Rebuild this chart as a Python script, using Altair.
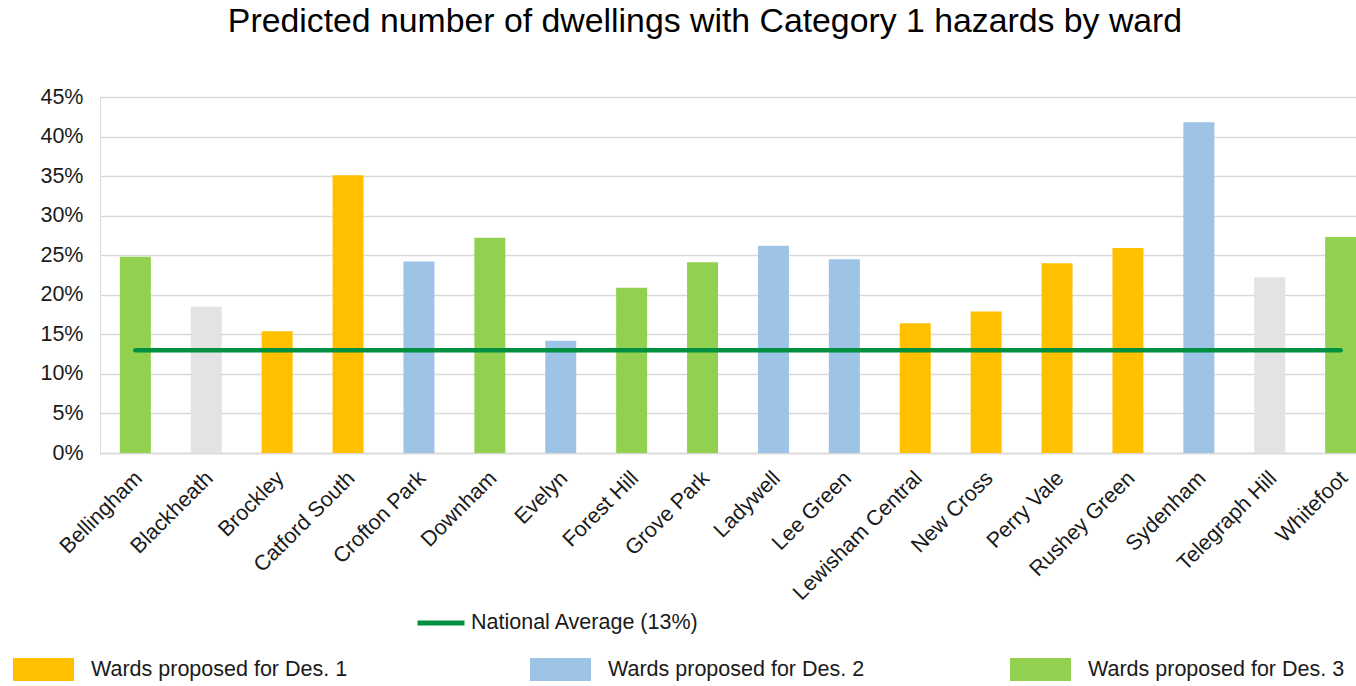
import altair as alt
import pandas as pd

wards = ["Bellingham", "Blackheath", "Brockley", "Catford South", "Crofton Park",
         "Downham", "Evelyn", "Forest Hill", "Grove Park", "Ladywell", "Lee Green",
         "Lewisham Central", "New Cross", "Perry Vale", "Rushey Green", "Sydenham",
         "Telegraph Hill", "Whitefoot"]
values = [24.8, 18.5, 15.4, 35.1, 24.2, 27.2, 14.2, 20.9, 24.1, 26.2, 24.5,
          16.4, 17.9, 24.0, 25.9, 41.8, 22.2, 27.3]
groups = ["Wards proposed for Des. 3", "Other", "Wards proposed for Des. 1",
          "Wards proposed for Des. 1", "Wards proposed for Des. 2", "Wards proposed for Des. 3",
          "Wards proposed for Des. 2", "Wards proposed for Des. 3", "Wards proposed for Des. 3",
          "Wards proposed for Des. 2", "Wards proposed for Des. 2", "Wards proposed for Des. 1",
          "Wards proposed for Des. 1", "Wards proposed for Des. 1", "Wards proposed for Des. 1",
          "Wards proposed for Des. 2", "Other", "Wards proposed for Des. 3"]
group_names = ["Wards proposed for Des. 1", "Wards proposed for Des. 2",
               "Wards proposed for Des. 3", "Other"]
group_colors = ["#FFC000", "#9DC3E6", "#92D050", "#E3E3E3"]
national_label = "National Average (13%)"
national_value = 13
y_ticks = [0, 5, 10, 15, 20, 25, 30, 35, 40, 45]

FONT = "Liberation Sans"
TXT = "#1a1a1a"
RECT = "M-1,-0.377L1,-0.377L1,0.377L-1,0.377Z"

df = pd.DataFrame({"ward": wards, "value": values, "group": groups})
df1 = df[df["group"] == group_names[0]]
df_rest = df[df["group"] != group_names[0]]
line_df = pd.DataFrame({"ward": [wards[0], wards[-1]],
                        "value": [national_value, national_value],
                        "series": [national_label, national_label]})

x_scale = alt.Scale(domain=wards, range=[0, 1276], paddingInner=0.563, paddingOuter=0.28)
x_axis = alt.Axis(title=None, labelAngle=-45, labelAlign="right", labelBaseline="top",
                  labelFontSize=21.5, labelFont=FONT, labelColor=TXT,
                  labelPadding=14, labelOffset=-4, ticks=False, grid=False,
                  domainColor="#D9D9D9", domainWidth=1.5, labelOverlap=False,
                  labelLimit=400)
y_scale = alt.Scale(domain=[0, 45], nice=False)
y_axis = alt.Axis(title=None, values=y_ticks, labelExpr="datum.value + '%'",
                  labelFontSize=21.5, labelFont=FONT, labelColor=TXT,
                  labelPadding=17, ticks=False, domain=False, gridColor="#D9D9D9",
                  gridWidth=1.5, labelOverlap=False)


def legend(x, y, values=None):
    kw = dict(title=None, orient="none", legendX=x, legendY=y, direction="horizontal",
              symbolType=RECT, symbolSize=3721, symbolStrokeWidth=0, symbolOpacity=1,
              labelFontSize=21.5, labelFont=FONT, labelColor=TXT,
              labelOffset=17, columnPadding=145, labelLimit=500)
    if values is not None:
        kw["values"] = values
    return alt.Legend(**kw)


bars1 = alt.Chart(df1).mark_bar().encode(
    x=alt.X("ward:N", sort=wards, scale=x_scale, axis=x_axis),
    y=alt.Y("value:Q", scale=y_scale, axis=y_axis),
    fill=alt.Fill("group:N",
                  scale=alt.Scale(domain=group_names[:1], range=group_colors[:1]),
                  legend=legend(-87, 542)),
)

bars_rest = alt.Chart(df_rest).mark_bar().encode(
    x=alt.X("ward:N", sort=wards, scale=x_scale, axis=x_axis),
    y=alt.Y("value:Q", scale=y_scale, axis=y_axis),
    color=alt.Color("group:N",
                    scale=alt.Scale(domain=group_names[1:], range=group_colors[1:]),
                    legend=legend(430, 542, group_names[1:3])),
)

line = alt.Chart(line_df).mark_line(strokeWidth=4.5, strokeCap="round").encode(
    x=alt.X("ward:N", sort=wards, scale=x_scale, axis=x_axis),
    y=alt.Y("value:Q", scale=y_scale, axis=y_axis),
    stroke=alt.Stroke("series:N",
                      scale=alt.Scale(domain=[national_label], range=["#00903F"]),
                      legend=alt.Legend(title=None, orient="none", legendX=315, legendY=500,
                                        symbolType="stroke", symbolSize=2209,
                                        symbolStrokeWidth=5, labelFontSize=21.5,
                                        labelFont=FONT, labelColor=TXT,
                                        labelOffset=4, labelLimit=500)),
)

chart = alt.layer(bars1, bars_rest, line).resolve_legend(
    fill="independent", color="independent", stroke="independent"
).properties(
    width=1256, height=356,
    padding={"left": 100, "top": 97, "right": 0, "bottom": 233},
    autosize=alt.AutoSizeParams(type="none"),
    title=alt.Title("Predicted number of dwellings with Category 1 hazards by ward",
                    fontSize=33.8, font=FONT, fontWeight="normal", color="#000000",
                    anchor="middle", frame="group", offset=47, dx=-23),
).configure_view(stroke=None).configure(background="white")

chart.save("out.html", embed_options={"renderer": "svg", "actions": False})
